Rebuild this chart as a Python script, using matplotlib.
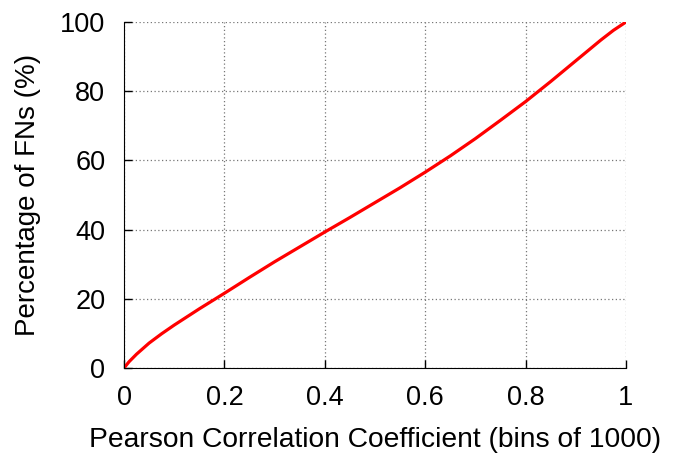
import matplotlib
matplotlib.use("Agg")
import matplotlib.pyplot as plt

pearson = [0.0, 0.01, 0.025, 0.05, 0.075, 0.1, 0.15, 0.2, 0.25, 0.3, 0.35, 0.4, 0.45, 0.5,
           0.55, 0.6, 0.65, 0.7, 0.75, 0.8, 0.85, 0.9, 0.95, 0.975, 1.0]
pct_fns = [0.0, 1.8, 4.0, 7.2, 9.9, 12.4, 17.1, 21.6, 26.2, 30.7, 35.0, 39.3, 43.5, 47.8,
           52.1, 56.6, 61.3, 66.3, 71.6, 77.0, 82.8, 88.8, 94.8, 97.6, 100.0]
xticks = [0, 0.2, 0.4, 0.6, 0.8, 1]
xticklabels = ["0", "0.2", "0.4", "0.6", "0.8", "1"]
yticks = [0, 20, 40, 60, 80, 100]

plt.rcParams['font.family'] = ['Liberation Sans', 'DejaVu Sans']
fig = plt.figure(figsize=(6.73, 4.53), dpi=100)
ax = fig.add_axes([124/673, 85/453, 502/673, 346/453])
ax.plot(pearson, pct_fns, color='#ff0000', linewidth=2.3, solid_capstyle='round')
ax.set_xlim(0, 1)
ax.set_ylim(0, 100)
ax.set_xticks(xticks)
ax.set_xticklabels(xticklabels)
ax.set_yticks(yticks)
ax.grid(True, linestyle=(0, (1, 2)), color='#777777', linewidth=0.9)
ax.spines['top'].set_visible(False)
ax.spines['right'].set_visible(False)
ax.tick_params(direction='in', length=6, width=1, labelsize=19.5)
ax.tick_params(axis='y', pad=13.5)
ax.tick_params(axis='x', pad=12)
ax.set_xlabel('Pearson Correlation Coefficient (bins of 1000)', fontsize=20.3, labelpad=12)
ax.set_ylabel('Percentage of FNs (%)', fontsize=20, labelpad=14)
fig.savefig('out.png', dpi=100)
